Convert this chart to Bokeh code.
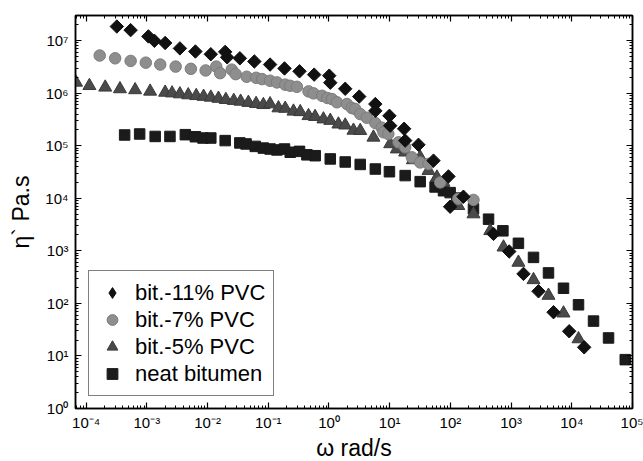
import math
from bokeh.plotting import figure
from bokeh.models import (LogAxis, FixedTicker, CustomJSTickFormatter, Legend, LegendItem)
from bokeh.embed import file_html
from bokeh.resources import INLINE

# ---------------- data ----------------
pvc11_w = [3.2e-4, 5.4e-4, 1.06e-3, 1.33e-3, 2.0e-3, 3.5e-3, 6.3e-3, 1.13e-2, 1.95e-2, 2.1e-2,
           3.4e-2, 5.9e-2, 0.107, 0.185, 0.327, 0.57, 1.01, 1.05, 1.85, 3.15, 5.8, 5.8, 9.9, 10.2,
           17.3, 18.0, 29.8, 52.7, 93, 99, 164, 513, 931, 1600, 2830, 5000, 9060, 16000]
pvc11_eta = [1.85e7, 1.58e7, 1.2e7, 9.9e6, 9.0e6, 7.1e6, 6.2e6, 5.5e6, 6.1e6, 4.8e6,
             4.6e6, 4.0e6, 3.5e6, 2.95e6, 2.6e6, 2.25e6, 2.15e6, 1.58e6, 1.21e6, 8.6e5, 6.2e5, 4.6e5, 3.7e5, 2.4e5,
             2.1e5, 1.25e5, 1.04e5, 5.2e4, 2.6e4, 6.9e3, 1.07e4, 2.1e3, 970, 364, 170, 68, 29.5, 14.6]

pvc7_w = [1.67e-4, 3.0e-4, 5.4e-4, 9.6e-4, 1.66e-3, 2.98e-3, 5.3e-3, 9.3e-3, 1.39e-2, 1.61e-2,
          2.5e-2, 2.9e-2, 4.4e-2, 6.3e-2, 7.9e-2, 0.107, 0.139, 0.19, 0.23, 0.296, 0.46, 0.556,
          0.77, 0.94, 1.12, 1.35, 1.97, 2.38, 2.7, 3.27, 4.2, 5.8, 7.4, 7.9, 9.5, 14.0, 18.0, 23.2,
          31.8, 43.6, 68, 135, 240]
pvc7_eta = [5.2e6, 4.6e6, 4.1e6, 3.8e6, 3.5e6, 3.2e6, 2.9e6, 2.7e6, 3.2e6, 2.4e6,
            2.8e6, 2.3e6, 2.05e6, 1.96e6, 1.85e6, 1.72e6, 1.6e6, 1.45e6, 1.38e6, 1.32e6, 1.08e6, 9.9e5,
            8.9e5, 8.1e5, 7.7e5, 6.7e5, 6.2e5, 5.2e5, 5.0e5, 4.0e5, 3.4e5, 2.7e5, 2.2e5, 1.8e5, 1.67e5, 1.16e5, 9.3e4, 6.0e4,
            4.8e4, 4.5e4, 2.0e4, 9.8e3, 9.3e3]

pvc5_w = [6.8e-5, 1.13e-4, 2.06e-4, 3.6e-4, 6.4e-4, 1.13e-3, 2.0e-3, 2.6e-3, 3.5e-3, 4.8e-3,
          6.5e-3, 8.6e-3, 1.13e-2, 1.51e-2, 2.0e-2, 2.7e-2, 3.5e-2, 4.7e-2, 6.3e-2, 8.3e-2,
          0.107, 0.147, 0.19, 0.26, 0.336, 0.46, 0.59, 0.81, 1.05, 1.43, 1.85, 2.53, 3.27, 5.4,
          10.2, 13.1, 18.0, 24.1, 31.8, 43.6, 60, 77, 135, 240, 453, 750, 1320, 2340, 4130, 7300, 12900]
pvc5_eta = [1.6e6, 1.38e6, 1.29e6, 1.2e6, 1.15e6, 1.08e6, 1.03e6, 1.0e6, 9.6e5, 9.2e5,
            8.9e5, 8.6e5, 8.3e5, 7.9e5, 7.5e5, 7.2e5, 6.95e5, 6.6e5, 6.3e5, 6.0e5,
            6.2e5, 5.2e5, 5.1e5, 4.5e5, 4.4e5, 3.7e5, 3.56e5, 3.2e5, 3.0e5, 2.56e5, 2.45e5, 1.95e5, 1.93e5, 1.44e5,
            1.08e5, 8.6e4, 7.5e4, 5.35e4, 6.0e4, 3.35e4, 2.5e4, 2.0e4, 7.2e3, 5.0e3, 2.4e3, 1.17e3, 600, 280, 141, 65, 21]

neat_w = [4.3e-4, 7.6e-4, 1.37e-3, 2.4e-3, 4.3e-3, 6.3e-3, 8.4e-3, 1.13e-2, 1.95e-2, 3.4e-2,
          4.3e-2, 6.1e-2, 8.3e-2, 0.107, 0.139, 0.185, 0.23, 0.327, 0.433, 0.593, 1.05, 1.85,
          3.27, 5.8, 9.9, 18.0, 31.8, 56, 77, 99, 128, 240, 425, 733, 1320, 2340, 4130, 7300,
          12900, 22800, 40300, 76000]
neat_eta = [1.6e5, 1.67e5, 1.5e5, 1.5e5, 1.62e5, 1.48e5, 1.4e5, 1.4e5, 1.25e5, 1.13e5,
            1.08e5, 9.7e4, 9.0e4, 8.65e4, 8.3e4, 8.65e4, 7.5e4, 7.8e4, 6.7e4, 6.45e4, 5.6e4, 4.9e4,
            4.4e4, 3.6e4, 3.2e4, 2.7e4, 2.07e4, 1.64e4, 1.39e4, 1.28e4, 1.01e4, 6.3e3, 4.0e3, 2.4e3, 1.39e3, 750, 380, 194,
            94, 46, 22, 8.5]

series_labels = ["bit.-11% PVC", "bit.-7% PVC", "bit.-5% PVC", "neat bitumen"]
x_label = "ω rad/s"
y_label = "η` Pa.s"
x_tick_exponents = list(range(-4, 6))
y_tick_exponents = list(range(0, 8))

# ---------------- figure ----------------
FONT = "Liberation Sans"
p = figure(x_axis_type="log", y_axis_type="log",
           x_range=(6.67e-5, 1e5), y_range=(1.0, 3.0e7),
           frame_width=557, frame_height=393,
           min_border_left=75, min_border_right=11, min_border_top=15, min_border_bottom=46,
           output_backend="svg", toolbar_location=None,
           background_fill_color="white", border_fill_color="white")
p.grid.visible = False
p.outline_line_color = "black"
p.outline_line_width = 1.5

x_major = [10.0 ** e for e in x_tick_exponents]
x_minor = [m * 10.0 ** e for e in range(-5, 5) for m in range(2, 10)]
y_major = [10.0 ** e for e in y_tick_exponents]
y_minor = [m * 10.0 ** e for e in range(0, 8) for m in range(2, 10)]

sup_code = """
const sup = {"-":"\u207b","0":"\u2070","1":"\u00b9","2":"\u00b2","3":"\u00b3","4":"\u2074",
             "5":"\u2075","6":"\u2076","7":"\u2077","8":"\u2078","9":"\u2079"};
const e = Math.round(Math.log10(tick));
return "10" + String(e).split("").map(c => sup[c]).join("");
"""

def style_axis(ax, major, minor, labels=True):
    ax.ticker = FixedTicker(ticks=major, minor_ticks=minor)
    ax.axis_line_width = 1.5
    ax.axis_line_color = "black"
    ax.major_tick_in = 6
    ax.major_tick_out = 0
    ax.minor_tick_in = 3
    ax.minor_tick_out = 0
    ax.major_tick_line_width = 1.2
    ax.minor_tick_line_width = 1
    if labels:
        ax.formatter = CustomJSTickFormatter(code=sup_code)
        ax.major_label_text_font = FONT
        ax.major_label_text_font_size = "15px"
        ax.major_label_text_color = "black"
        ax.axis_label_text_font = FONT
        ax.axis_label_text_font_size = "23px"
        ax.axis_label_text_font_style = "normal"
        ax.axis_label_text_color = "black"
    else:
        ax.formatter = CustomJSTickFormatter(code="return '';")
        ax.major_label_text_font_size = "0px"
        ax.major_label_standoff = 0

xa = p.xaxis[0]
ya = p.yaxis[0]
style_axis(xa, x_major, x_minor)
style_axis(ya, y_major, y_minor)
xa.axis_label = x_label
ya.axis_label = y_label
xa.major_label_standoff = 5
xa.axis_label_standoff = 1
ya.major_label_standoff = 7
ya.axis_label_standoff = 8

top = LogAxis()
style_axis(top, x_major, x_minor, labels=False)
p.add_layout(top, "above")
right = LogAxis()
style_axis(right, y_major, y_minor, labels=False)
p.add_layout(right, "right")

# ---------------- data marks ----------------
r_neat = p.scatter(neat_w, neat_eta, marker="square", size=10.5,
                   fill_color="#1b1b1b", line_color="#1b1b1b")
r5 = p.scatter(pvc5_w, pvc5_eta, marker="triangle", size=13,
               fill_color="#4a4a4a", line_color="#3a3a3a")
r7 = p.scatter(pvc7_w, pvc7_eta, marker="circle", size=11.5,
               fill_color="#8e8e8e", line_color="#7c7c7c")
r11 = p.scatter(pvc11_w, pvc11_eta, marker="square", size=9.5, angle=math.pi / 4,
                fill_color="#111111", line_color="#111111")
# legend sample for the diamond series: a placeholder that is never drawn in the plot
r11_leg = p.scatter([float("nan")], [float("nan")], marker="diamond", size=14,
                    fill_color="#111111", line_color="#111111")

legend = Legend(items=[LegendItem(label=series_labels[0], renderers=[r11_leg]),
                       LegendItem(label=series_labels[1], renderers=[r7]),
                       LegendItem(label=series_labels[2], renderers=[r5]),
                       LegendItem(label=series_labels[3], renderers=[r_neat])],
                location=(13, 12), orientation="vertical",
                glyph_width=30, glyph_height=27, label_height=22, spacing=0,
                padding=8, margin=0, label_standoff=8,
                label_text_font=FONT, label_text_font_size="22px", label_text_color="black",
                border_line_color="black", border_line_width=1.5,
                background_fill_color="white", background_fill_alpha=1.0)
p.add_layout(legend, "center")

open("out.html", "w").write(file_html(p, INLINE))
